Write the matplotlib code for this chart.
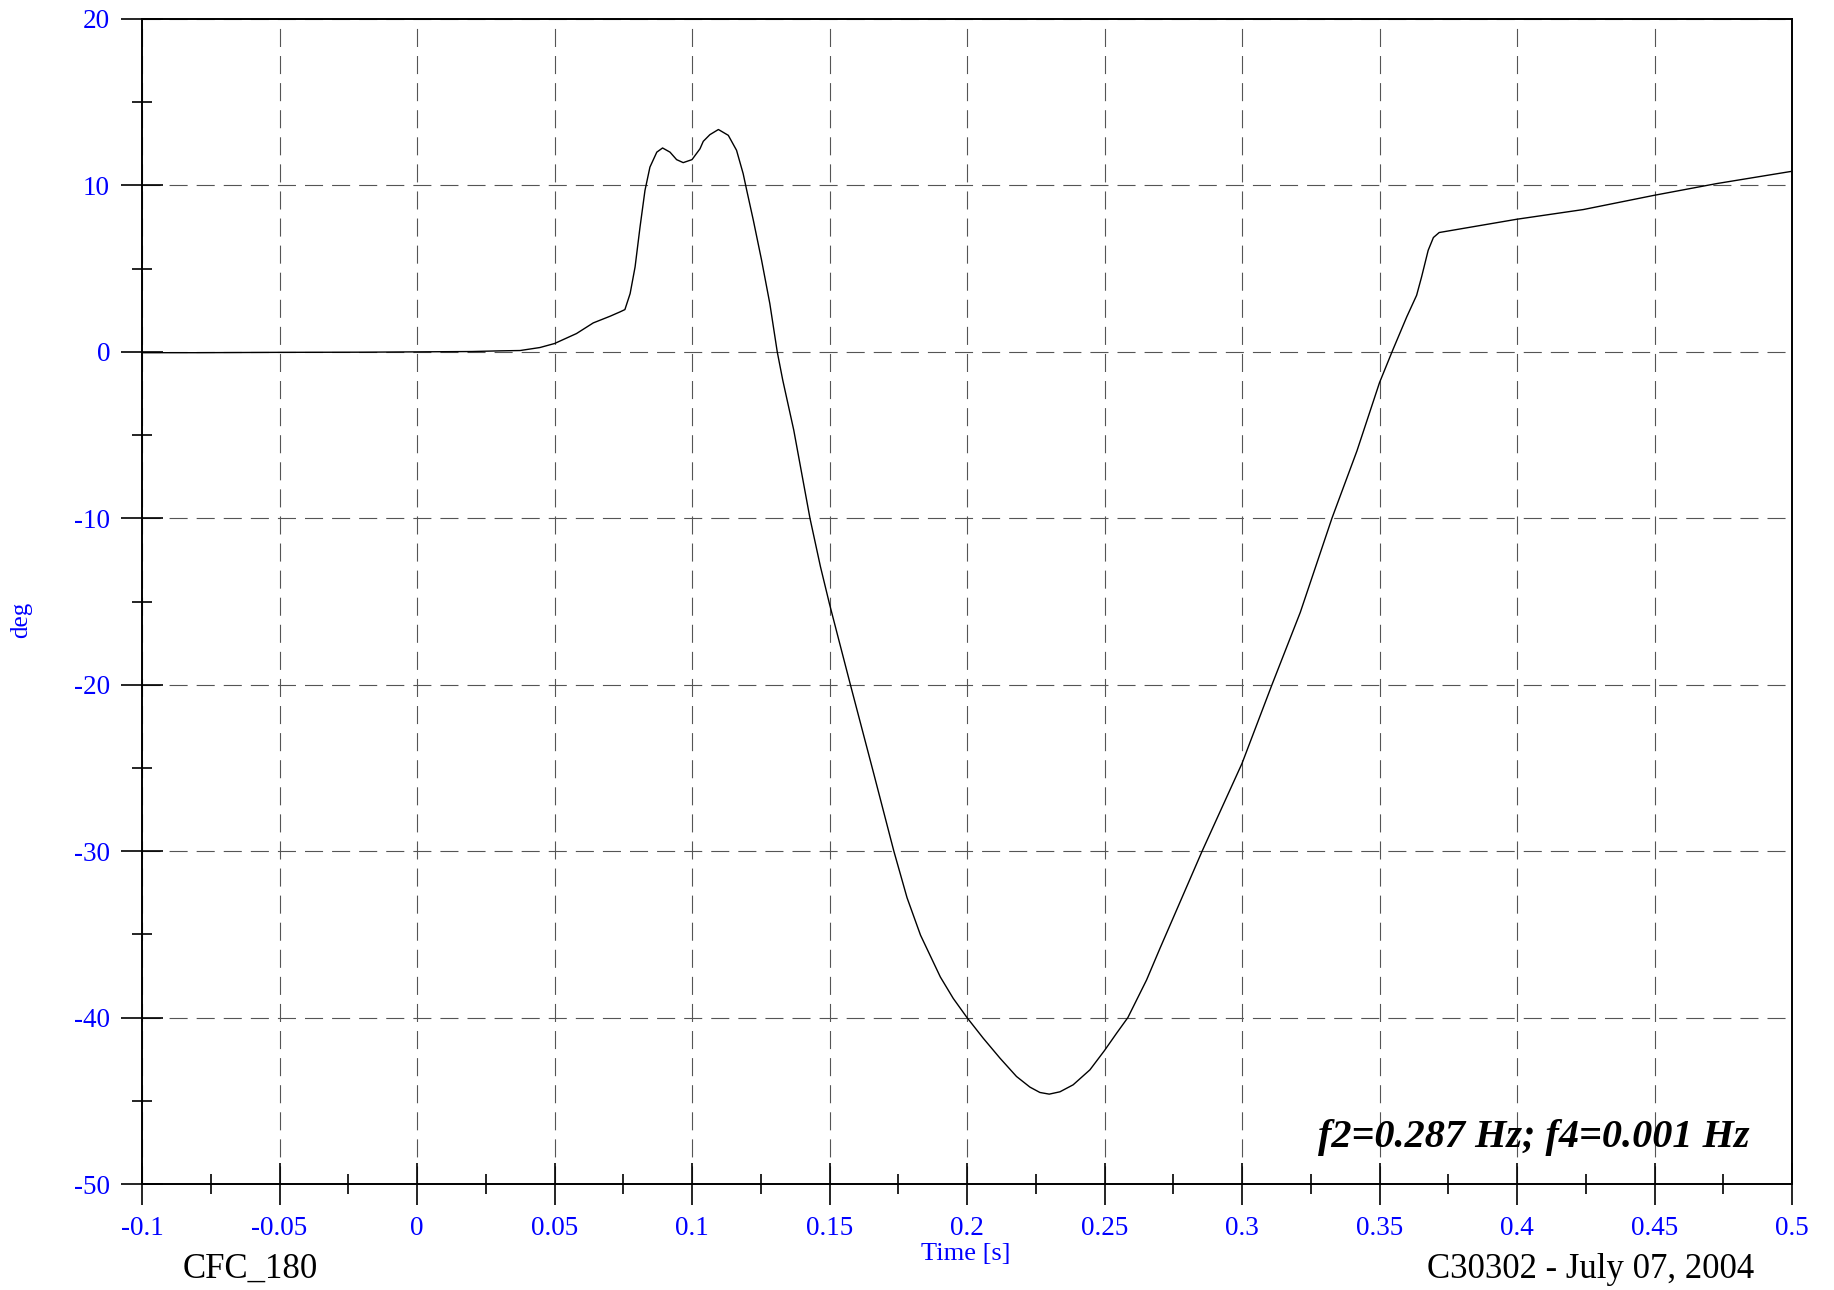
import matplotlib
matplotlib.use("Agg")
import matplotlib.pyplot as plt
from matplotlib.ticker import FixedLocator

plt.rcParams['font.family'] = ['Liberation Serif', 'DejaVu Serif']
plt.rcParams['lines.scale_dashes'] = False

# data
t = [-0.1, -0.08, -0.05, -0.02, 0.0, 0.02, 0.03, 0.0375, 0.0447, 0.05, 0.058,
     0.0641, 0.0702, 0.0738, 0.0756, 0.0775, 0.0793, 0.0811, 0.0829, 0.0847,
     0.0872, 0.0893, 0.092, 0.0944, 0.0968, 0.1, 0.1029, 0.1041, 0.1065, 0.1096,
     0.1132, 0.1162, 0.1186, 0.1199, 0.1223, 0.1253, 0.1283, 0.131, 0.133, 0.137,
     0.1429, 0.1467, 0.15, 0.1576, 0.1661, 0.1734, 0.1782, 0.1831, 0.1903, 0.195,
     0.2, 0.2059, 0.212, 0.218, 0.2229, 0.2265, 0.2299, 0.2338, 0.2386, 0.2447,
     0.25, 0.2544, 0.2585, 0.2653, 0.2702, 0.2855, 0.3, 0.3109, 0.3212, 0.3327,
     0.3418, 0.35, 0.3548, 0.3599, 0.3635, 0.3653, 0.3677, 0.3696, 0.3717, 0.4,
     0.4241, 0.45, 0.4726, 0.5]
deg = [-0.05, -0.05, -0.03, -0.02, 0.0, 0.02, 0.06, 0.08, 0.26, 0.5, 1.1,
       1.74, 2.14, 2.4, 2.54, 3.5, 5.1, 7.5, 9.7, 11.1,
       12.0, 12.25, 12.0, 11.55, 11.37, 11.55, 12.2, 12.65, 13.05, 13.36,
       13.01, 12.11, 10.71, 9.71, 7.91, 5.51, 2.9, 0.0, -1.7, -4.7,
       -10.0, -12.9, -15.15, -20.0, -25.35, -30.0, -32.8, -35.05, -37.56, -38.85,
       -40.0, -41.24, -42.44, -43.54, -44.18, -44.5, -44.6, -44.46, -44.04, -43.14,
       -41.98, -40.94, -40.0, -37.74, -35.83, -30.0, -24.73, -20.0, -15.65, -10.0,
       -5.95, -1.85, 0.1, 2.1, 3.4, 4.5, 6.1, 6.87, 7.17, 7.97,
       8.55, 9.41, 10.11, 10.85]

xticks = [-0.1, -0.05, 0, 0.05, 0.1, 0.15, 0.2, 0.25, 0.3, 0.35, 0.4, 0.45, 0.5]
xlabels = ["-0.1", "-0.05", "0", "0.05", "0.1", "0.15", "0.2", "0.25", "0.3",
           "0.35", "0.4", "0.45", "0.5"]
xminor = [-0.075, -0.025, 0.025, 0.075, 0.125, 0.175, 0.225, 0.275, 0.325,
          0.375, 0.425, 0.475]
yticks = [20, 10, 0, -10, -20, -30, -40, -50]
ylabels = ["20", "10", "0", "-10", "-20", "-30", "-40", "-50"]
yminor = [15, 5, -5, -15, -25, -35, -45]

blue = "#0000ff"

fig = plt.figure(figsize=(18.34, 12.90), dpi=100)
ax = fig.add_axes([142/1834, 1-1184/1290, 1650/1834, 1165/1290])

ax.plot(t, deg, color="black", lw=1.0, zorder=3)

ax.set_xlim(-0.1, 0.5)
ax.set_ylim(-50, 20)

ax.xaxis.set_major_locator(FixedLocator(xticks))
ax.xaxis.set_minor_locator(FixedLocator(xminor))
ax.yaxis.set_major_locator(FixedLocator(yticks))
ax.yaxis.set_minor_locator(FixedLocator(yminor))
ax.set_xticklabels(xlabels)
ax.set_yticklabels(ylabels)

ax.tick_params(which="major", direction="inout", length=30, width=1.2,
               labelsize=19.5, labelcolor=blue, pad=8)
ax.tick_params(which="minor", direction="inout", length=15, width=1.2)

for s in ax.spines.values():
    s.set_linewidth(1.4)
    s.set_color("black")

ax.grid(True, which="major", color="#555555", lw=0.8, linestyle=(0, (13, 6.5)))
ax.set_axisbelow(True)

fig.text(21/1834, 1-620/1290, "deg", color=blue, fontsize=18, rotation=90,
         ha="center", va="center")
fig.text(966/1834, 1-1254/1290, "Time [s]", color=blue, fontsize=19,
         ha="center", va="center")
fig.text(250/1834, 1-1269/1290, "CFC_180", color="black", fontsize=25,
         ha="center", va="center")
fig.text(1754/1834, 1-1269/1290, "C30302 - July 07, 2004", color="black",
         fontsize=25, ha="right", va="center")
fig.text(1749/1834, 1-1137/1290, "f2=0.287 Hz; f4=0.001 Hz", color="black",
         fontsize=29, fontweight="bold", fontstyle="italic", ha="right",
         va="center")

fig.savefig("out.png", dpi=100)
